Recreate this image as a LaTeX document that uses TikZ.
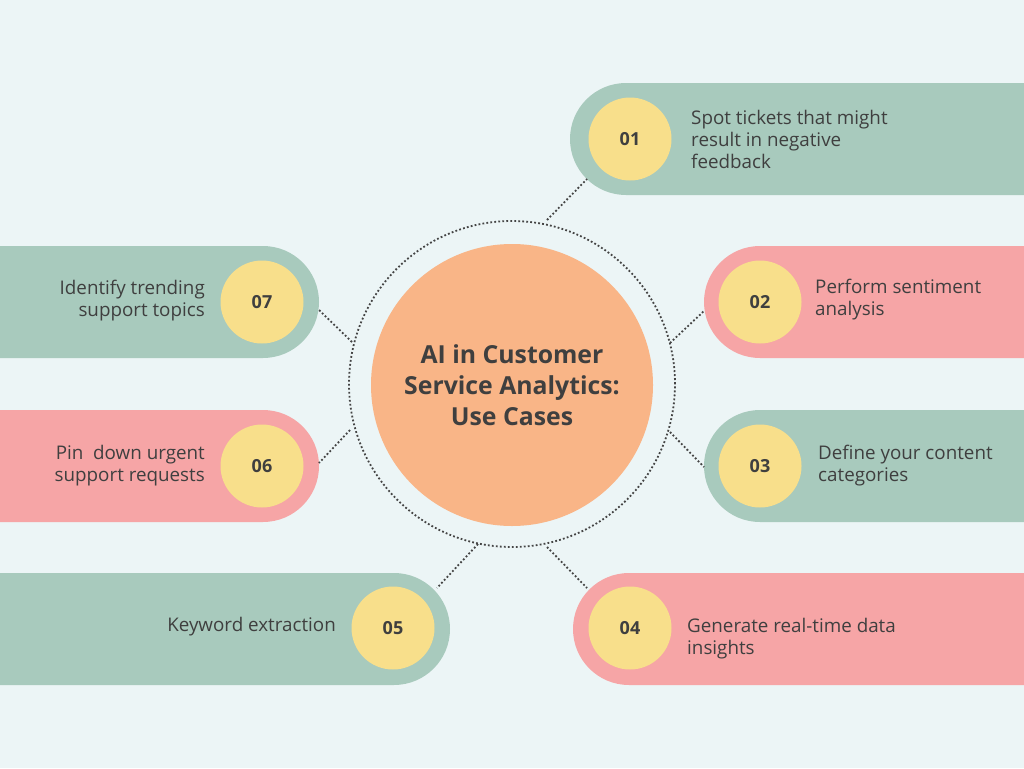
\documentclass[tikz,border=0pt]{standalone}
\usepackage{fontspec}
\setmainfont{Open Sans}
\definecolor{bgc}{HTML}{ECF5F6}
\definecolor{greenc}{HTML}{A8CABD}
\definecolor{pinkc}{HTML}{F6A5A6}
\definecolor{yellowc}{HTML}{F8DF8B}
\definecolor{orangec}{HTML}{F9B587}
\definecolor{txt}{HTML}{3F3F3F}
\definecolor{dotc}{HTML}{444444}
\begin{document}
\begin{tikzpicture}[x=1pt,y=-1pt,
  numc/.style={circle,fill=yellowc,minimum size=83pt,inner sep=0pt,text=txt,font=\fontsize{18}{22}\selectfont\bfseries},
  lbl/.style={text=txt,font=\fontsize{18.8}{22}\selectfont,inner sep=0pt},
  lblr/.style={lbl,anchor=west,align=left},
  lbll/.style={lbl,anchor=east,align=right},
  conn/.style={draw=dotc,line width=1.8pt,dash pattern=on 1.8pt off 2.2pt}]
\useasboundingbox (0,0) rectangle (1024,768);
\clip (0,0) rectangle (1024,768);
\fill[bgc] (0,0) rectangle (1024,768);
% pills
\fill[greenc,rounded corners=56pt] (570,83) rectangle (1150,195);
\fill[pinkc,rounded corners=56pt] (704,246) rectangle (1150,358);
\fill[greenc,rounded corners=56pt] (704,410) rectangle (1150,522);
\fill[pinkc,rounded corners=56pt] (573,573) rectangle (1150,685);
\fill[greenc,rounded corners=56pt] (-150,573) rectangle (450,685);
\fill[pinkc,rounded corners=56pt] (-150,410) rectangle (319,522);
\fill[greenc,rounded corners=56pt] (-150,246) rectangle (319,358);
% number circles
\node[numc] (n1) at (630,139) {01};
\node[numc] (n2) at (760,302) {02};
\node[numc] (n3) at (760,466) {03};
\node[numc] (n4) at (630,628) {04};
\node[numc] (n5) at (393,628) {05};
\node[numc] (n6) at (262,466) {06};
\node[numc] (n7) at (262,302) {07};
% labels
\node[lblr] (t1) at (691,139) {Spot tickets that might\\result in negative\\feedback};
\node[lblr] (t2) at (815,300) {Perform sentiment\\analysis};
\node[lblr] (t3) at (818,466) {Define your content\\categories};
\node[lblr] (t4) at (687,639) {Generate real-time data\\insights};
\node[lbll] (t5) at (336,627) {Keyword extraction};
\node[lbll] (t6) at (205,466) {Pin\ \ down urgent\\support requests};
\node[lbll] (t7) at (205,301) {Identify trending\\support topics};
% center
\node[circle,draw=dotc,line width=1.8pt,dash pattern=on 1.8pt off 2.2pt,minimum size=326pt,inner sep=0pt] (ring) at (512,384) {};
\node[circle,fill=orangec,minimum size=282pt,inner sep=0pt,text=txt,align=center,font=\fontsize{24.8}{31}\selectfont\bfseries] (hub) at (512,385) {AI in Customer\\Service Analytics:\\Use Cases};
% connectors
\coordinate (r1) at (547,220); \coordinate (p1) at (587,179);
\coordinate (r2) at (670,343); \coordinate (p2) at (704,311);
\coordinate (r3) at (670,432); \coordinate (p3) at (704,467);
\coordinate (r4) at (547,547); \coordinate (p4) at (587,588);
\coordinate (r5) at (478,544); \coordinate (p5) at (437,588);
\coordinate (r6) at (350,430); \coordinate (p6) at (319,463);
\coordinate (r7) at (352,342); \coordinate (p7) at (319,310);
\foreach \i in {1,...,7}{\draw[conn] (r\i) -- (p\i);}
\end{tikzpicture}
\end{document}
